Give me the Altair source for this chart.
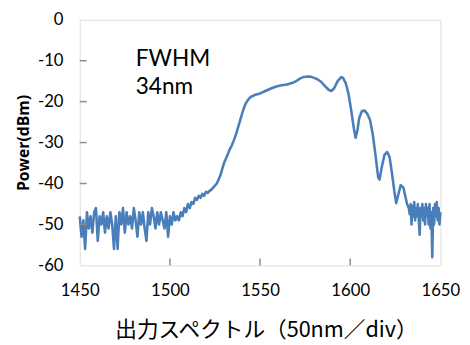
import altair as alt
import pandas as pd

# Wavelength (nm) and power (dBm)
wavelength = [
    1450, 1451, 1452, 1453, 1454, 1455, 1456, 1457, 1458, 1459,
    1460, 1461, 1462, 1463, 1464, 1465, 1466, 1467, 1468, 1469,
    1470, 1471, 1472, 1473, 1474, 1475, 1476, 1477, 1478, 1479,
    1480, 1481, 1482, 1483, 1484, 1485, 1486, 1487, 1488, 1489,
    1490, 1491, 1492, 1493, 1494, 1495, 1496, 1497, 1498, 1499,
    1500, 1501, 1502, 1503, 1504, 1505, 1506, 1507, 1508, 1509,
    1510, 1511, 1512, 1513, 1514, 1515, 1516, 1517, 1518, 1519,
    1520, 1521, 1522, 1523, 1524, 1525, 1526, 1527, 1528, 1529,
    1530, 1531, 1532, 1533, 1534, 1535, 1536, 1537, 1538, 1539,
    1540, 1541, 1542, 1543, 1544, 1545, 1547, 1550, 1553, 1556,
    1559, 1562, 1565, 1568, 1570, 1572, 1574, 1576, 1578, 1580,
    1582, 1584, 1586, 1588, 1589.5, 1591, 1593, 1595, 1596, 1597.5,
    1599, 1600.5, 1602, 1603, 1604, 1605, 1606.5, 1608, 1609.5, 1611,
    1612.5, 1614, 1615.5, 1616.3, 1617.5, 1619, 1620.5, 1621.8, 1623, 1624.5,
    1625.5, 1626.5, 1628, 1629.5, 1630.5, 1631.5, 1632.5, 1633, 1633.5, 1634,
    1634.5, 1635, 1635.5, 1636, 1636.5, 1637, 1637.5, 1638.5, 1639, 1639.5,
    1640, 1640.5, 1641, 1641.5, 1642, 1642.5, 1643, 1643.5, 1644, 1644.5,
    1645, 1645.5, 1646, 1646.5, 1647, 1647.5, 1648, 1648.5, 1649, 1649.5,
    1650,
]
power = [
    -48, -53, -49, -56, -47, -51, -48, -52, -47, -46,
    -54, -48, -50, -47, -52, -48, -51, -47, -50, -56,
    -48, -56, -47, -50, -46, -52, -47, -50, -48, -51,
    -46, -49, -53, -47, -50, -47, -51, -54, -47, -50,
    -46, -48, -51, -47, -50, -47, -49, -51, -47, -53,
    -48, -50, -47, -49, -48, -49, -47, -48, -46, -47,
    -45, -46, -44.5, -45, -43.5, -44, -43, -43.5, -42.5, -43,
    -42, -42.3, -41.8, -41.5, -41, -40.5, -40, -39, -38, -36.5,
    -35, -34, -33, -31.8, -31, -30, -28.8, -27.5, -26, -24.5,
    -23, -21.6, -20.5, -19.8, -19.2, -18.8, -18.4, -18, -17.4, -16.8,
    -16.3, -16, -15.8, -15.4, -15, -14.4, -14, -13.9, -13.9, -14.2,
    -14.6, -15.2, -16.2, -17.1, -17.4, -16.8, -15, -14, -14.2, -15.5,
    -18, -22, -26.5, -28.8, -27, -24, -22.3, -22.2, -23, -24.5,
    -28, -33, -38.5, -39, -36, -33, -32.3, -33.5, -37, -42,
    -44.8, -43, -40.4, -41, -43, -45, -46, -47.5, -45, -50,
    -45.5, -48, -44.5, -49, -46, -48, -45, -52.5, -46, -48,
    -45, -49, -46, -50, -45, -48, -46, -50, -45, -51,
    -47, -58, -46, -50, -45, -48, -44.5, -49, -46, -50,
    -47,
]

x_ticks = [1450, 1500, 1550, 1600, 1650]
y_ticks = [0, -10, -20, -30, -40, -50, -60]
x_inner_ticks = [1500, 1550, 1600]
y_inner_ticks = [-10, -20, -30, -40, -50]

annotation = ["FWHM", "34nm"]

df = pd.DataFrame({"wl": wavelength, "p": power})

W, H = 367, 250
xscale = alt.Scale(domain=[1450, 1650], nice=False, zero=False)
yscale = alt.Scale(domain=[-60, 0], nice=False, zero=False)

axis_font = "Lato"
line = alt.Chart(df).mark_line(color="#4A7EBB", strokeWidth=2.6, strokeJoin="round").encode(
    x=alt.X("wl:Q", scale=xscale,
            axis=alt.Axis(values=x_ticks, grid=False, ticks=False, domain=False,
                          labelExpr="toString(datum.value)",
                          labelFont=axis_font, labelFontSize=17, labelColor="#000",
                          labelPadding=18, labelFlush=False,
                          title="出力スペクトル（50nm／div）",
                          titleFont="Noto Sans CJK JP", titleFontSize=22,
                          titleFontWeight="normal", titleColor="#000",
                          titlePadding=21, titleX=W / 2 + 6)),
    y=alt.Y("p:Q", scale=yscale,
            axis=alt.Axis(values=y_ticks, grid=False, ticks=False, domain=False,
                          labelExpr="toString(datum.value)",
                          labelFont=axis_font, labelFontSize=17, labelColor="#000",
                          labelPadding=17, labelFlush=False,
                          title="Power(dBm)", titleFont="Open Sans",
                          titleFontSize=16, titleFontWeight="bold",
                          titleColor="#000", titlePadding=6)),
)

xt = alt.Chart(pd.DataFrame({"v": x_inner_ticks})).mark_rule(
    color="#8c8c8c", strokeWidth=1.5).encode(
    x=alt.X("v:Q", scale=xscale),
    y=alt.value(H - 7), y2=alt.value(H))

yt = alt.Chart(pd.DataFrame({"v": y_inner_ticks})).mark_rule(
    color="#8c8c8c", strokeWidth=1.5).encode(
    y=alt.Y("v:Q", scale=yscale),
    x=alt.value(0), x2=alt.value(7))

ann = alt.Chart(pd.DataFrame({"t": ["\n".join(annotation)]})).mark_text(
    font=axis_font, fontSize=23, align="left", baseline="alphabetic", color="#000",
    lineBreak="\n", lineHeight=29,
).encode(
    text="t:N",
    x=alt.value(57),
    y=alt.value(47),
)

chart = alt.layer(line, xt, yt, ann).properties(
    width=W, height=H,
    autosize=alt.AutoSizeParams(type="none"),
    padding={"left": 73, "top": 9, "right": 22, "bottom": 75},
).configure_view(stroke="#8c8c8c", strokeWidth=1.6).configure(background="white")

chart.save("out.html", embed_options={"renderer": "svg", "actions": False})
